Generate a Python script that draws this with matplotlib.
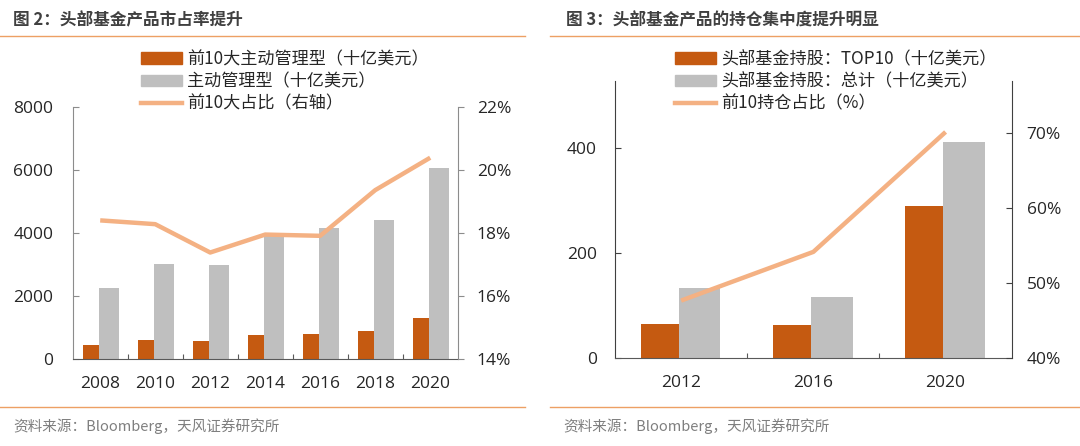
import matplotlib
matplotlib.use("Agg")
import matplotlib.pyplot as plt
import numpy as np
from matplotlib.patches import Patch
from matplotlib.lines import Line2D

plt.rcParams['font.family'] = ['Noto Sans CJK SC', 'DejaVu Sans']

# ---- data: chart 1 ----
years1 = ['2008', '2010', '2012', '2014', '2016', '2018', '2020']
top10_active = [467, 624, 571, 762, 815, 910, 1300]
active_total = [2275, 3037, 2984, 3950, 4168, 4413, 6073]
top10_share = [18.41, 18.29, 17.39, 17.96, 17.92, 19.37, 20.40]

# ---- data: chart 2 ----
years2 = ['2012', '2016', '2020']
hold_top10 = [66, 64, 290]
hold_total = [134, 116, 411]
hold_share = [47.7, 54.2, 70.2]

C_BAR = '#C55A11'
C_GRAY = '#BFBFBF'
C_LINE = '#F4B183'
C_RULE = '#EDA064'
C_TEXT = '#262626'
NUM_FONT = ['Open Sans', 'Noto Sans CJK SC']

fig = plt.figure(figsize=(10.8, 4.46), dpi=100)
W, H = 1080, 446

def fx(px):
    return px / W

def fy(py):
    return 1 - py / H

# header / footer
fig.text(fx(13), fy(20), '图 2：头部基金产品市占率提升', fontsize=12, fontweight='bold',
         color='#404040', va='center', ha='left')
fig.text(fx(566), fy(20), '图 3：头部基金产品的持仓集中度提升明显', fontsize=12, fontweight='bold',
         color='#404040', va='center', ha='left')
for x0, x1 in [(0, 525), (550, 1080)]:
    fig.add_artist(Line2D([fx(x0), fx(x1)], [fy(36), fy(36)], color=C_RULE, lw=1.0))
    fig.add_artist(Line2D([fx(x0), fx(x1)], [fy(407), fy(407)], color=C_RULE, lw=1.0))
fig.text(fx(13), fy(426), '资料来源：Bloomberg，天风证券研究所', fontsize=10.5, color='#7F7F7F',
         va='center', ha='left')
fig.text(fx(563), fy(426), '资料来源：Bloomberg，天风证券研究所', fontsize=10.5, color='#7F7F7F',
         va='center', ha='left')

def style_axes(ax, ax2, spine_col, ldir, lpad, rdir, rpad):
    for a in (ax, ax2):
        a.spines['top'].set_visible(False)
        a.patch.set_visible(False)
    ax.spines['right'].set_visible(False)
    ax2.spines['left'].set_visible(False)
    ax2.spines['bottom'].set_visible(False)
    ax.spines['left'].set_color(spine_col)
    ax.spines['bottom'].set_color('#595959')
    ax2.spines['right'].set_color(spine_col)
    ax.tick_params(axis='y', direction=ldir, colors=spine_col, labelcolor=C_TEXT,
                   labelsize=12.5, length=4.3, width=0.8, pad=lpad)
    ax2.tick_params(axis='y', direction=rdir, colors=spine_col, labelcolor=C_TEXT,
                    labelsize=12.5, length=4.3, width=0.8, pad=rpad)
    ax.tick_params(axis='x', which='major', labelcolor=C_TEXT, labelsize=12.5, length=0, pad=12)
    ax.tick_params(axis='x', which='minor', direction='in', length=3.6, width=0.8, color='#595959')
    for lab in ax.get_xticklabels() + ax.get_yticklabels() + ax2.get_yticklabels():
        lab.set_family(NUM_FONT)

# ---------------- chart 1 ----------------
ax1 = fig.add_axes([fx(72.7), fy(359.3), fx(457.7) - fx(72.7), fy(107.3) - fy(359.3)])
x1 = np.arange(len(years1))
ax1.bar(x1 - 0.164, top10_active, width=0.285, color=C_BAR, zorder=2)
ax1.bar(x1 + 0.16, active_total, width=0.364, color=C_GRAY, zorder=2)
ax1.set_xlim(-0.5, len(years1) - 0.5)
ax1.set_ylim(0, 8000)
ax1.set_yticks([0, 2000, 4000, 6000, 8000])
ax1.set_xticks(x1)
ax1.set_xticklabels(years1)
ax1.set_xticks(np.arange(0.5, len(years1) - 1, 1), minor=True)
ax1b = ax1.twinx()
ax1b.plot(x1, top10_share, color=C_LINE, lw=3.2, solid_capstyle='butt', zorder=3)
ax1b.set_ylim(14, 22)
ax1b.set_yticks([14, 16, 18, 20, 22])
ax1b.set_yticklabels([f'{v}%' for v in [14, 16, 18, 20, 22]])
style_axes(ax1, ax1b, '#8C8C8C', 'in', 14, 'out', 9.4)

legend_kw = dict(loc='upper left', frameon=False, fontsize=12.3,
                 handlelength=2.4, handleheight=0.64, handletextpad=0.3, labelspacing=0.25,
                 borderpad=0, borderaxespad=0, labelcolor=C_TEXT)
fig.legend(handles=[Patch(color=C_BAR, label='前10大主动管理型（十亿美元）'),
                    Patch(color=C_GRAY, label='主动管理型（十亿美元）'),
                    Line2D([0], [0], color=C_LINE, lw=3.2, label='前10大占比（右轴）')],
           bbox_to_anchor=(fx(141), fy(50)), **legend_kw)

# ---------------- chart 2 ----------------
ax2 = fig.add_axes([fx(615), fy(358.3), fx(1011.7) - fx(615), fy(81) - fy(358.3)])
x2 = np.arange(len(years2))
ax2.bar(x2 - 0.162, hold_top10, width=0.29, color=C_BAR, zorder=2)
ax2.bar(x2 + 0.14, hold_total, width=0.315, color=C_GRAY, zorder=2)
ax2.set_xlim(-0.5, len(years2) - 0.5)
ax2.set_ylim(0, 527)
ax2.set_yticks([0, 200, 400])
ax2.set_xticks(x2)
ax2.set_xticklabels(years2)
ax2.set_xticks(np.arange(0.5, len(years2) - 1, 1), minor=True)
ax2b = ax2.twinx()
ax2b.plot(x2, hold_share, color=C_LINE, lw=3.2, solid_capstyle='butt', zorder=3)
ax2b.set_ylim(40, 77)
ax2b.set_yticks([40, 50, 60, 70])
ax2b.set_yticklabels([f'{v}%' for v in [40, 50, 60, 70]])
style_axes(ax2, ax2b, '#404040', 'in', 13, 'in', 10.8)

fig.legend(handles=[Patch(color=C_BAR, label='头部基金持股：TOP10（十亿美元）'),
                    Patch(color=C_GRAY, label='头部基金持股：总计（十亿美元）'),
                    Line2D([0], [0], color=C_LINE, lw=3.2, label='前10持仓占比（%）')],
           bbox_to_anchor=(fx(675), fy(50)), **legend_kw)

fig.savefig('out.png', dpi=100)
